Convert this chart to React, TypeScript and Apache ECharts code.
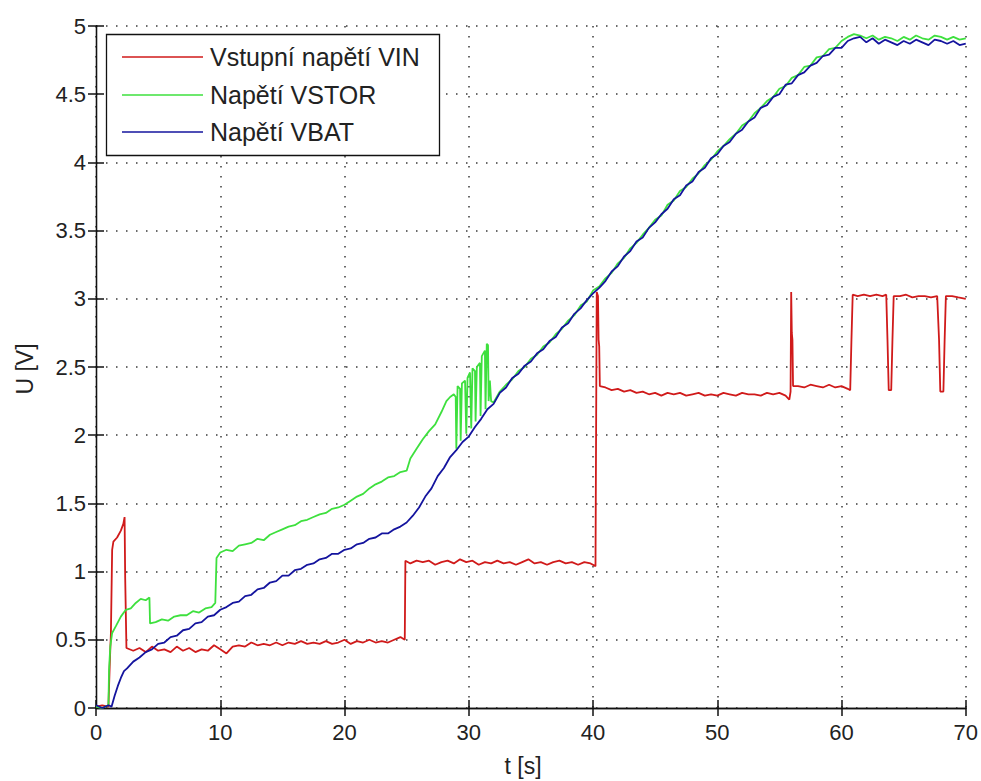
import React, { useEffect, useRef } from "react";
import * as echarts from "echarts";

const xTicks = [0, 10, 20, 30, 40, 50, 60, 70];
const yTicks = [0, 0.5, 1, 1.5, 2, 2.5, 3, 3.5, 4, 4.5, 5];
const seriesNames = ["Vstupní napětí VIN", "Napětí VSTOR", "Napětí VBAT"];
const xLabel = "t [s]";
const yLabel = "U [V]";

// Vstupní napětí VIN [t, U]
const vinData: number[][] = [
  [0, 0.01], [0.5, 0.02], [1.0, 0.01], [1.1, 0.3], [1.2, 0.55], [1.3, 1.16], [1.4, 1.22], [1.7, 1.25], [2.0, 1.3],
  [2.2, 1.35], [2.3, 1.4], [2.35, 0.95], [2.45, 0.44], [3.0, 0.42], [3.5, 0.44], [4.0, 0.41], [4.5, 0.45], [5.0, 0.42],
  [5.5, 0.43], [6.0, 0.41], [6.5, 0.45], [7.0, 0.42], [7.5, 0.44], [8.0, 0.41], [8.5, 0.43], [9.0, 0.42], [9.5, 0.46],
  [10.0, 0.43], [10.5, 0.4], [11.0, 0.45], [11.5, 0.46], [12.0, 0.45], [12.5, 0.48], [13.0, 0.46], [13.5, 0.47],
  [14.0, 0.46], [14.5, 0.48], [15.0, 0.46], [15.5, 0.48], [16.0, 0.47], [16.5, 0.49], [17.0, 0.47], [17.5, 0.48],
  [18.0, 0.47], [18.5, 0.49], [19.0, 0.47], [19.5, 0.48], [20.0, 0.5], [20.5, 0.47], [21.0, 0.49], [21.5, 0.48],
  [22.0, 0.5], [22.5, 0.48], [23.0, 0.49], [23.5, 0.48], [24.0, 0.5], [24.5, 0.52], [24.85, 0.5], [24.9, 1.08],
  [25.3, 1.06], [25.8, 1.08], [26.3, 1.07], [26.8, 1.08], [27.3, 1.05], [27.8, 1.07], [28.3, 1.08], [28.8, 1.06],
  [29.3, 1.09], [29.8, 1.07], [30.3, 1.08], [30.8, 1.05], [31.3, 1.07], [31.8, 1.06], [32.3, 1.08], [32.8, 1.06],
  [33.3, 1.07], [33.8, 1.05], [34.3, 1.07], [34.8, 1.09], [35.3, 1.06], [35.8, 1.07], [36.3, 1.05], [36.8, 1.07],
  [37.3, 1.08], [37.8, 1.06], [38.3, 1.07], [38.8, 1.05], [39.3, 1.07], [39.8, 1.06], [40.2, 1.04], [40.3, 3.05],
  [40.4, 3.02], [40.45, 2.7], [40.5, 2.65], [40.55, 2.36], [41.0, 2.35], [41.5, 2.33], [42.0, 2.34], [42.5, 2.32],
  [43.0, 2.33], [43.5, 2.31], [44.0, 2.32], [44.5, 2.3], [45.0, 2.31], [45.5, 2.29], [46.0, 2.31], [46.5, 2.3],
  [47.0, 2.31], [47.5, 2.29], [48.0, 2.3], [48.5, 2.31], [49.0, 2.29], [49.5, 2.3], [50.0, 2.29], [50.5, 2.31],
  [51.0, 2.3], [51.5, 2.29], [52.0, 2.31], [52.5, 2.3], [53.0, 2.3], [53.5, 2.29], [54.0, 2.31], [54.5, 2.3],
  [55.0, 2.31], [55.5, 2.29], [55.8, 2.26], [55.9, 2.32], [55.95, 3.05], [56.0, 2.75], [56.05, 2.7], [56.1, 2.36],
  [56.5, 2.36], [57.0, 2.35], [57.5, 2.37], [58.0, 2.36], [58.5, 2.35], [59.0, 2.37], [59.5, 2.35], [60.0, 2.36],
  [60.5, 2.34], [60.7, 2.33], [60.8, 2.7], [60.9, 3.03], [61.3, 3.02], [61.8, 3.03], [62.3, 3.02], [62.8, 3.03],
  [63.3, 3.02], [63.6, 3.03], [63.7, 2.7], [63.8, 2.33], [64.0, 2.33], [64.1, 2.7], [64.2, 3.02], [64.7, 3.02],
  [65.2, 3.03], [65.7, 3.01], [66.2, 3.02], [66.7, 3.02], [67.2, 3.01], [67.7, 3.02], [67.85, 2.7], [67.95, 2.32],
  [68.2, 2.32], [68.3, 2.7], [68.4, 3.02], [68.9, 3.02], [69.4, 3.01], [70.0, 3.0],
];

// Napětí VSTOR [t, U]
const vstorData: number[][] = [
  [0, 0.01], [0.5, 0.0], [1.0, 0.02], [1.05, 0.28], [1.15, 0.45], [1.3, 0.55], [1.6, 0.6], [2.0, 0.67], [2.4, 0.72],
  [2.8, 0.73], [3.2, 0.77], [3.6, 0.8], [4.0, 0.79], [4.3, 0.81], [4.35, 0.62], [4.8, 0.63], [5.3, 0.65], [5.8, 0.64],
  [6.3, 0.67], [6.8, 0.68], [7.3, 0.68], [7.8, 0.71], [8.3, 0.7], [8.8, 0.73], [9.3, 0.74], [9.6, 0.77], [9.7, 1.1],
  [10.0, 1.14], [10.5, 1.16], [11.0, 1.15], [11.5, 1.19], [12.0, 1.2], [12.5, 1.21], [13.0, 1.24], [13.5, 1.23],
  [14.0, 1.27], [14.5, 1.29], [15.0, 1.31], [15.5, 1.33], [16.0, 1.34], [16.5, 1.37], [17.0, 1.38], [17.5, 1.4],
  [18.0, 1.42], [18.5, 1.43], [19.0, 1.46], [19.5, 1.47], [20.0, 1.49], [20.5, 1.52], [21.0, 1.55], [21.5, 1.57],
  [22.0, 1.61], [22.5, 1.64], [23.0, 1.66], [23.5, 1.69], [24.0, 1.7], [24.5, 1.73], [25.0, 1.74], [25.3, 1.83],
  [25.8, 1.9], [26.3, 1.97], [26.8, 2.03], [27.3, 2.08], [27.8, 2.17], [28.2, 2.25], [28.5, 2.28], [28.8, 2.3],
  [28.95, 2.28], [29.0, 1.9], [29.1, 2.36], [29.3, 2.34], [29.35, 1.96], [29.45, 2.38], [29.7, 2.4], [29.8, 2.01],
  [29.9, 2.42], [30.1, 2.46], [30.2, 2.05], [30.3, 2.49], [30.5, 2.47], [30.55, 2.1], [30.65, 2.5], [30.9, 2.53],
  [30.95, 2.14], [31.05, 2.58], [31.3, 2.62], [31.35, 2.19], [31.45, 2.67], [31.55, 2.66], [31.6, 2.25], [31.7, 2.4],
  [31.8, 2.25], [32.0, 2.24], [32.5, 2.32], [33.0, 2.37], [33.5, 2.41], [34.0, 2.47], [34.5, 2.5], [35.0, 2.56],
  [35.5, 2.59], [36.0, 2.65], [36.5, 2.68], [37.0, 2.74], [37.5, 2.78], [38.0, 2.84], [38.5, 2.88], [39.0, 2.95],
  [39.5, 2.98], [40.0, 3.06], [40.5, 3.09], [41.0, 3.15], [41.5, 3.19], [42.0, 3.26], [42.5, 3.3], [43.0, 3.37],
  [43.5, 3.41], [44.0, 3.47], [44.5, 3.52], [45.0, 3.58], [45.5, 3.61], [46.0, 3.69], [46.5, 3.72], [47.0, 3.79],
  [47.5, 3.82], [48.0, 3.88], [48.5, 3.92], [49.0, 3.98], [49.5, 4.02], [50.0, 4.08], [50.5, 4.12], [51.0, 4.17],
  [51.5, 4.21], [52.0, 4.27], [52.5, 4.3], [53.0, 4.36], [53.5, 4.4], [54.0, 4.45], [54.5, 4.48], [55.0, 4.54],
  [55.5, 4.56], [56.0, 4.62], [56.5, 4.64], [57.0, 4.7], [57.5, 4.71], [58.0, 4.77], [58.5, 4.78], [59.0, 4.83],
  [59.5, 4.84], [60.0, 4.89], [60.5, 4.92], [61.0, 4.94], [61.5, 4.93], [62.0, 4.91], [62.5, 4.93], [63.0, 4.9],
  [63.5, 4.92], [64.0, 4.91], [64.5, 4.89], [65.0, 4.92], [65.5, 4.9], [66.0, 4.93], [66.5, 4.91], [67.0, 4.9],
  [67.5, 4.93], [68.0, 4.92], [68.5, 4.9], [69.0, 4.92], [69.5, 4.9], [70.0, 4.91],
];

// Napětí VBAT [t, U]
const vbatData: number[][] = [
  [0, 0.02], [0.5, 0.0], [1.0, 0.02], [1.25, 0.01], [1.5, 0.09], [1.75, 0.16], [2.0, 0.22], [2.25, 0.27], [2.5, 0.29],
  [3.0, 0.34], [3.5, 0.37], [4.0, 0.41], [4.5, 0.43], [5.0, 0.47], [5.5, 0.48], [6.0, 0.52], [6.5, 0.53], [7.0, 0.57],
  [7.5, 0.58], [8.0, 0.62], [8.5, 0.63], [9.0, 0.67], [9.5, 0.68], [10.0, 0.72], [10.5, 0.74], [11.0, 0.77],
  [11.5, 0.78], [12.0, 0.82], [12.5, 0.83], [13.0, 0.87], [13.5, 0.88], [14.0, 0.92], [14.5, 0.93], [15.0, 0.97],
  [15.5, 0.97], [16.0, 1.01], [16.5, 1.02], [17.0, 1.05], [17.5, 1.06], [18.0, 1.09], [18.5, 1.1], [19.0, 1.13],
  [19.5, 1.13], [20.0, 1.16], [20.5, 1.17], [21.0, 1.2], [21.5, 1.21], [22.0, 1.24], [22.5, 1.25], [23.0, 1.28],
  [23.5, 1.28], [24.0, 1.31], [24.5, 1.33], [25.0, 1.36], [25.5, 1.41], [26.0, 1.47], [26.5, 1.55], [27.0, 1.61],
  [27.5, 1.7], [28.0, 1.76], [28.5, 1.84], [29.0, 1.89], [29.5, 1.95], [30.0, 1.99], [30.5, 2.06], [31.0, 2.12],
  [31.5, 2.19], [32.0, 2.23], [32.5, 2.31], [33.0, 2.35], [33.5, 2.42], [34.0, 2.45], [34.5, 2.51], [35.0, 2.54],
  [35.5, 2.6], [36.0, 2.63], [36.5, 2.69], [37.0, 2.72], [37.5, 2.79], [38.0, 2.82], [38.5, 2.89], [39.0, 2.93],
  [39.5, 2.99], [40.0, 3.04], [40.5, 3.08], [41.0, 3.13], [41.5, 3.2], [42.0, 3.24], [42.5, 3.31], [43.0, 3.35],
  [43.5, 3.42], [44.0, 3.45], [44.5, 3.52], [45.0, 3.56], [45.5, 3.62], [46.0, 3.66], [46.5, 3.73], [47.0, 3.76],
  [47.5, 3.83], [48.0, 3.86], [48.5, 3.93], [49.0, 3.96], [49.5, 4.03], [50.0, 4.06], [50.5, 4.12], [51.0, 4.15],
  [51.5, 4.21], [52.0, 4.24], [52.5, 4.3], [53.0, 4.33], [53.5, 4.4], [54.0, 4.42], [54.5, 4.48], [55.0, 4.5],
  [55.5, 4.57], [56.0, 4.58], [56.5, 4.64], [57.0, 4.66], [57.5, 4.71], [58.0, 4.73], [58.5, 4.78], [59.0, 4.79],
  [59.5, 4.84], [60.0, 4.84], [60.5, 4.89], [61.0, 4.91], [61.5, 4.92], [62.0, 4.88], [62.5, 4.91], [63.0, 4.87],
  [63.5, 4.9], [64.0, 4.88], [64.5, 4.86], [65.0, 4.89], [65.5, 4.87], [66.0, 4.9], [66.5, 4.88], [67.0, 4.86],
  [67.5, 4.9], [68.0, 4.89], [68.5, 4.87], [69.0, 4.89], [69.5, 4.86], [70.0, 4.87],
];

const colors = ["#d01a1a", "#3ee03e", "#14149e"];
const FONT = "'Liberation Sans', Arial, Helvetica, sans-serif";

export default function App() {
  const ref = useRef<HTMLDivElement>(null);
  useEffect(() => {
    if (!ref.current) return;
    const chart = echarts.init(ref.current, undefined, { renderer: "svg" });
    const gridLine = { show: true, lineStyle: { color: "#3a3a3a", width: 1.5, type: [1.5, 8.5] as any } };
    const axisLine = { show: true, lineStyle: { color: "#111", width: 1.3 } };
    const tick = { show: true, inside: true, length: 8, lineStyle: { color: "#111", width: 1.5 } };
    const legendRows = [57, 95, 132];
    chart.setOption({
      animation: false,
      backgroundColor: "#fff",
      grid: { left: 96, right: 15, top: 26, bottom: 73, containLabel: false },
      xAxis: [
        {
          type: "value", min: xTicks[0], max: xTicks[xTicks.length - 1], interval: 10,
          axisLine, axisTick: tick, splitLine: gridLine,
          axisLabel: { color: "#222", fontSize: 22, fontFamily: FONT, margin: 13 },
        },
        {
          type: "value", position: "top", min: 0, max: 70, interval: 10,
          axisLine, axisTick: tick, splitLine: { show: false }, axisLabel: { show: false },
        },
      ],
      yAxis: [
        {
          type: "value", min: yTicks[0], max: yTicks[yTicks.length - 1], interval: 0.5,
          axisLine, axisTick: tick, splitLine: gridLine,
          axisLabel: { color: "#222", fontSize: 22, fontFamily: FONT, margin: 10 },
        },
        {
          type: "value", position: "right", min: 0, max: 5, interval: 0.5,
          axisLine, axisTick: tick, splitLine: { show: false }, axisLabel: { show: false },
        },
      ],
      series: [vinData, vstorData, vbatData].map((d, i) => ({
        name: seriesNames[i],
        type: "line",
        data: d,
        symbol: "none",
        lineStyle: { color: colors[i], width: 1.8 },
        z: 2 + i,
      })),
      graphic: [
        {
          type: "rect", z: 100,
          shape: { x: 106.5, y: 34.5, width: 333, height: 121 },
          style: { fill: "#fff", stroke: "#111", lineWidth: 1.3 },
        },
        ...seriesNames.flatMap((n, i) => [
          {
            type: "line", z: 101,
            shape: { x1: 122, y1: legendRows[i], x2: 203, y2: legendRows[i] },
            style: { stroke: colors[i], lineWidth: 1.6 },
          },
          {
            type: "text", z: 101, x: 210, y: legendRows[i],
            style: { text: n, fill: "#222", fontSize: 25, fontFamily: FONT, verticalAlign: "middle", align: "left" },
          },
        ]),
        {
          type: "text", x: 523, y: 766,
          style: { text: xLabel, fill: "#222", fontSize: 23, fontFamily: FONT, align: "center", verticalAlign: "middle" },
        },
        {
          type: "text", x: 25, y: 369, rotation: Math.PI / 2,
          style: { text: yLabel, fill: "#222", fontSize: 23, fontFamily: FONT, align: "center", verticalAlign: "middle" },
        },
      ],
    });
    return () => chart.dispose();
  }, []);
  return <div ref={ref} style={{ width: 981, height: 781, position: "absolute", left: 0, top: 0 }} />;
}
